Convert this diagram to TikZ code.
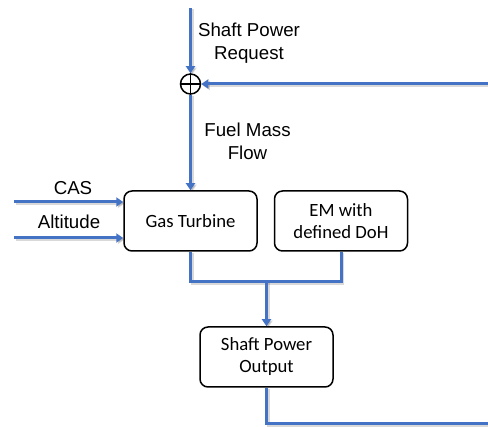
\documentclass[tikz,border=0pt]{standalone}
\usepackage{fontspec}
\setmainfont{Liberation Sans}
\newfontfamily\boxfont{Carlito}
\usetikzlibrary{arrows.meta,positioning}
\definecolor{flowblue}{RGB}{68,114,196}

\begin{document}
\begin{tikzpicture}[x=1pt,y=-1pt,every node/.style={inner sep=0pt},
  block/.style={draw,line width=1.5pt,rounded corners=8pt,minimum width=133pt,minimum height=60pt,align=center,font=\boxfont\fontsize{18.7}{22}\selectfont},
  lbl/.style={align=center,font=\fontsize{18.7}{23}\selectfont},
  flow/.style={draw=flowblue,line width=3pt,preaction={draw=black,opacity=0.15,line width=3pt,transform canvas={xshift=1.5pt,yshift=-1.5pt}}},
  tip/.style={-{Triangle[width=9pt,length=7pt]}},
  sumnode/.style={circle,draw,line width=1.5pt,minimum size=20pt}]
\useasboundingbox (0,0) rectangle (488,427);
% blocks
\node [block] (gt) at (190.5,221) {Gas Turbine};
\node [block] (em) at (341,221) {EM with\\defined DoH};
\node [block] (spo) at (266.5,357) {Shaft Power\\Output};
\node [sumnode] (sum) at (190.5,84) {};
\draw [line width=1.5pt] (sum.north) -- (sum.south) (sum.west) -- (sum.east);
% free ends
\coordinate (req) at (190.5,8);
\coordinate (fb) at (488,84);
\coordinate (cas) at (14,202);
\coordinate (alt) at (14,238);
\coordinate (join) at (266.5,282);
\coordinate (out) at (488,424);
% connectors
\draw [flow,tip] (req) -- (sum.north);
\draw [flow,tip] (fb) -- (sum.east);
\draw [flow,tip] (sum.south) -- (gt.north);
\draw [flow,tip] (cas) -- (cas -| gt.west);
\draw [flow,tip] (alt) -- (alt -| gt.west);
\draw [flow] (gt.south) |- (join) -| (em.south);
\draw [flow,tip] (join) -- (spo.north);
\draw [flow] (spo.south) |- (out);
% labels
\node [lbl] (reqlbl) at (249,43) {Shaft Power\\Request};
\node [lbl] (fuellbl) at (247.5,141) {Fuel Mass\\Flow};
\node [lbl,anchor=base] (caslbl) at (73,195) {CAS};
\node [lbl,anchor=base] (altlbl) at (69,229) {Altitude};
\end{tikzpicture}
\end{document}
